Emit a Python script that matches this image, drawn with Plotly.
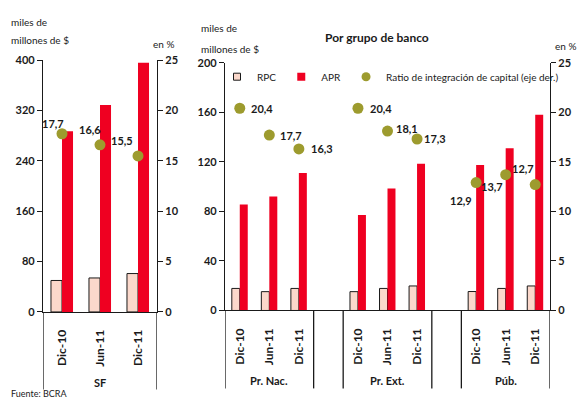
import plotly.graph_objects as go

# Sistema financiero (SF)
sf_periods = ["Dic-10", "Jun-11", "Dic-11"]
sf_rpc = [50, 54, 61]
sf_apr = [287, 329, 396]
sf_ratio = [17.7, 16.6, 15.5]

# Por grupo de banco
groups = ["Pr. Nac.", "Pr. Ext.", "Púb."]
periods = ["Dic-10", "Jun-11", "Dic-11"]
rpc = {
    "Pr. Nac.": [17.8, 15.2, 17.8],
    "Pr. Ext.": [15.2, 17.8, 19.8],
    "Púb.": [15.3, 17.8, 19.8],
}
apr = {
    "Pr. Nac.": [85.5, 92, 111],
    "Pr. Ext.": [77, 98.5, 118.5],
    "Púb.": [117.5, 131, 158],
}
ratio = {
    "Pr. Nac.": [20.4, 17.7, 16.3],
    "Pr. Ext.": [20.4, 18.1, 17.3],
    "Púb.": [12.9, 13.7, 12.7],
}

sf_ticks = [0, 80, 160, 240, 320, 400]
grp_ticks = [0, 40, 80, 120, 160, 200]
pct_ticks = [0, 5, 10, 15, 20, 25]

RPC_FILL = "#FBD8CB"
APR_RED = "#EF0021"
OLIVE = "#9D9B2E"
INK = "#1a1a1a"
FONT = "Lato"

W, H = 578, 407


def px_x(p):
    return p / W


def px_y(p):
    return 1 - p / H


def fmt(v):
    return f"{v:.1f}".replace(".", ",")


fig = go.Figure()

# ---- left panel: SF ----
sf_x = list(range(len(sf_periods)))
fig.add_trace(go.Bar(x=sf_x, y=sf_rpc, width=0.29, offset=-0.29,
                     marker=dict(color=RPC_FILL, line=dict(color=INK, width=1)),
                     xaxis="x", yaxis="y", showlegend=False, name="RPC"))
fig.add_trace(go.Bar(x=sf_x, y=sf_apr, width=0.29, offset=0,
                     marker=dict(color=APR_RED, line=dict(width=0)),
                     xaxis="x", yaxis="y", showlegend=False, name="APR"))
fig.add_trace(go.Scatter(x=sf_x, y=sf_ratio, mode="markers",
                         marker=dict(color=OLIVE, size=11),
                         xaxis="x", yaxis="y2", showlegend=False))

# ---- right panel: bank groups ----
gx, g_rpc, g_apr, g_ratio = [], [], [], []
for gi, g in enumerate(groups):
    for pi in range(len(periods)):
        gx.append(gi * 4 + pi)
        g_rpc.append(rpc[g][pi])
        g_apr.append(apr[g][pi])
        g_ratio.append(ratio[g][pi])

fig.add_trace(go.Bar(x=gx, y=g_rpc, width=0.27, offset=-0.27,
                     marker=dict(color=RPC_FILL, line=dict(color=INK, width=1)),
                     xaxis="x2", yaxis="y3", showlegend=False))
fig.add_trace(go.Bar(x=gx, y=g_apr, width=0.27, offset=0,
                     marker=dict(color=APR_RED, line=dict(width=0)),
                     xaxis="x2", yaxis="y3", showlegend=False))
fig.add_trace(go.Scatter(x=gx, y=g_ratio, mode="markers",
                         marker=dict(color=OLIVE, size=11),
                         xaxis="x2", yaxis="y4", showlegend=False))

# legend entries
fig.add_trace(go.Scatter(x=[None], y=[None], mode="markers", name="RPC",
                         marker=dict(symbol="square", size=7, color=RPC_FILL,
                                     line=dict(color=INK, width=1)),
                         xaxis="x2", yaxis="y3"))
fig.add_trace(go.Scatter(x=[None], y=[None], mode="markers", name="APR",
                         marker=dict(symbol="square", size=8, color=APR_RED),
                         xaxis="x2", yaxis="y3"))
fig.add_trace(go.Scatter(x=[None], y=[None], mode="markers",
                         name="Ratio de integración de capital (eje der.)",
                         marker=dict(size=9, color=OLIVE),
                         xaxis="x2", yaxis="y3"))

tickfont = dict(family=FONT, size=11, color=INK, weight="bold")
xtickfont = dict(family=FONT, size=12, color=INK, weight="bold")
yaxis_common = dict(showgrid=False, zeroline=False, showline=True, linecolor=INK,
                    linewidth=1.3, ticks="outside", ticklen=5, tickcolor=INK,
                    tickwidth=1.3, tickfont=tickfont, fixedrange=True)
xaxis_common = dict(showgrid=False, zeroline=False, showline=True, linecolor=INK,
                    linewidth=1.3, ticks="", tickangle=-90, tickfont=xtickfont,
                    ticklabelstandoff=12, fixedrange=True)

left_dom_y = [px_y(315), px_y(55)]
right_dom_y = [px_y(313.5), px_y(57.5)]

fig.update_layout(
    width=W, height=H,
    margin=dict(l=0, r=0, t=0, b=0),
    paper_bgcolor="white", plot_bgcolor="white",
    font=dict(family=FONT, color=INK),
    xaxis=dict(xaxis_common, domain=[px_x(43), px_x(157)], range=[-0.5, 2.5],
               tickvals=sf_x, ticktext=sf_periods, anchor="y"),
    yaxis=dict(yaxis_common, domain=left_dom_y, range=[0, 400],
               tickvals=sf_ticks, anchor="x"),
    yaxis2=dict(yaxis_common, overlaying="y", side="right", range=[0, 25],
                tickvals=pct_ticks, anchor="x"),
    xaxis2=dict(xaxis_common, domain=[px_x(225), px_x(550)], range=[-0.5, 10.5],
                tickvals=gx, ticktext=periods * len(groups), anchor="y3"),
    yaxis3=dict(yaxis_common, domain=right_dom_y, range=[0, 200],
                tickvals=grp_ticks, anchor="x2"),
    yaxis4=dict(yaxis_common, overlaying="y3", side="right", range=[0, 25],
                tickvals=pct_ticks, anchor="x2"),
    legend=dict(orientation="h", x=px_x(217), y=px_y(72), xanchor="left",
                yanchor="middle", font=dict(family=FONT, size=10, color=INK),
                bgcolor="rgba(0,0,0,0)", itemsizing="trace", tracegroupgap=0),
    showlegend=True,
)

# vertical separators below the x axes
line = dict(color=INK, width=1.3)
for xv in [-0.5, 2.5]:
    fig.add_shape(type="line", xref="x", yref="paper", x0=xv, x1=xv,
                  y0=left_dom_y[0], y1=px_y(395), line=line)
for xv in [-0.5, 2.5, 3.5, 6.5, 7.5, 10.5]:
    fig.add_shape(type="line", xref="x2", yref="paper", x0=xv, x1=xv,
                  y0=right_dom_y[0], y1=px_y(394), line=line)

ann = []
label_font = dict(family=FONT, size=11, color=INK, weight="bold")

# group names
ann.append(dict(text="SF", x=1, xref="x", y=px_y(388), yref="paper",
                yanchor="middle", showarrow=False, font=label_font))
for gi, g in enumerate(groups):
    ann.append(dict(text=g, x=gi * 4 + 1, xref="x2", y=px_y(386), yref="paper",
                    yanchor="middle", showarrow=False, font=label_font))

# ratio value labels
sf_label_pos = [(-9, 10), (-10, 15), (-16, 15)]
for i, v in enumerate(sf_ratio):
    dx, dy = sf_label_pos[i]
    ann.append(dict(text=fmt(v), x=sf_x[i], y=v, xref="x", yref="y2",
                    showarrow=False, xshift=dx, yshift=dy, font=label_font))

grp_label_pos = [
    ("left", 9, 0), ("left", 9, 0), ("left", 10, 0),
    ("left", 10, 0), ("left", 6, 3), ("left", 5, 0),
    ("right", -2, -18), ("right", -1, -12), ("right", 1, 16),
]
for i, v in enumerate(g_ratio):
    anchor, dx, dy = grp_label_pos[i]
    ann.append(dict(text=fmt(v), x=gx[i], y=v, xref="x2", yref="y4",
                    xanchor=anchor, showarrow=False, xshift=dx, yshift=dy,
                    font=label_font))


# axis titles
def axis_text(txt, x, y, size=10, anchor="left"):
    return dict(text=txt, x=px_x(x), y=px_y(y), xref="paper", yref="paper",
                xanchor=anchor, yanchor="middle", showarrow=False,
                font=dict(family=FONT, size=size, color=INK))


ann += [
    axis_text("miles de", 9, 15),
    axis_text("millones de $", 9, 34),
    axis_text("en %", 151, 38),
    axis_text("miles de", 199, 22),
    axis_text("millones de $", 199, 43),
    axis_text("en %", 553, 40),
]
ann.append(dict(text="<b>Por grupo de banco</b>", x=px_x(377), y=px_y(22),
                xref="paper", yref="paper", showarrow=False,
                font=dict(family=FONT, size=12, color=INK)))
ann.append(dict(text="Fuente: BCRA", x=px_x(9), y=px_y(406.5), xref="paper",
                yref="paper", xanchor="left", yanchor="bottom", showarrow=False,
                font=dict(family=FONT, size=9, color=INK)))

fig.update_layout(annotations=ann)

fig.write_html("out.html")
